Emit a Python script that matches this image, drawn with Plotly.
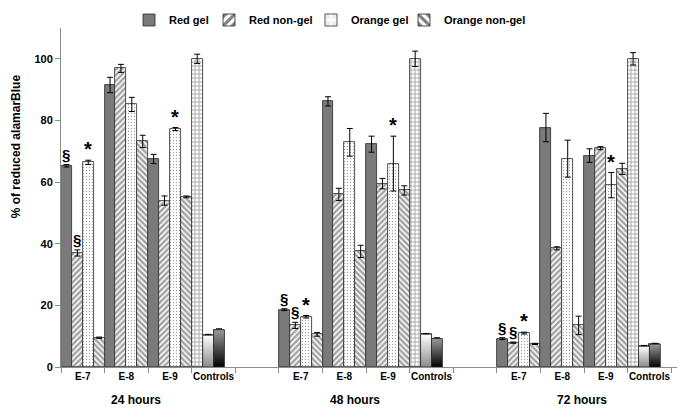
import plotly.graph_objects as go

# ---- data ----
categories = ["E-7", "E-8", "E-9", "Controls"]
times = ["24 hours", "48 hours", "72 hours"]
series_names = ["Red gel", "Red non-gel", "Orange gel", "Orange non-gel"]

# values per time point (E-7, E-8, E-9, Controls)
red_gel = [[65.3, 91.5, 67.5, 100.0], [18.6, 86.2, 72.3, 100.0], [9.2, 77.7, 68.6, 100.0]]
red_gel_err = [[0.4, 2.5, 1.5, 1.5], [0.3, 1.5, 2.6, 2.5], [0.3, 4.6, 2.2, 2.0]]
red_nongel = [[37.0, 96.9, 54.0, 10.3], [13.5, 56.0, 59.5, 10.6], [7.9, 38.5, 71.0, 6.7]]
red_nongel_err = [[1.0, 1.3, 1.5, 0.3], [1.0, 2.0, 1.7, 0.3], [0.2, 0.5, 0.5, 0.3]]
orange_gel = [[66.4, 85.2, 77.2, 12.1], [16.3, 72.9, 66.0, 9.2], [11.0, 67.6, 59.0, 7.4]]
orange_gel_err = [[0.7, 2.3, 0.5, 0.3], [0.4, 4.5, 8.9, 0.3], [0.3, 6.0, 4.1, 0.3]]
orange_nongel = [[9.5, 73.2, 55.2, None], [10.6, 37.5, 57.3, None], [7.5, 13.5, 64.3, None]]
orange_nongel_err = [[0.2, 2.0, 0.3, 0], [0.6, 2.0, 1.5, 0], [0.2, 3.0, 1.8, 0]]

# significance marks: (time index, category index, series index, symbol)
marks = [(0, 0, 0, "§"), (0, 0, 1, "§"), (0, 0, 2, "*"), (0, 2, 2, "*"),
         (1, 0, 0, "§"), (1, 0, 1, "§"), (1, 0, 2, "*"), (1, 2, 2, "*"),
         (2, 0, 0, "§"), (2, 0, 1, "§"), (2, 0, 2, "*"), (2, 2, 2, "*")]

ytick_vals = [0, 20, 40, 60, 80, 100]

# ---- layout helpers ----
ncat = len(categories)
step = ncat + 1  # one blank category between time groups
nser = len(series_names)
FONT = "Liberation Sans, Arial"
OFF = 8  # page body margin of the html page


def xpos(t, c):
    return t * step + c + 0.5


def slot(t, c, s):
    left = xpos(t, c) - 0.5 + s / nser
    return left, left + 1.0 / nser


xs = [xpos(t, c) for t in range(len(times)) for c in range(ncat)]
ctrl = [c == ncat - 1 for t in range(len(times)) for c in range(ncat)]


def flat(v):
    return [x for row in v for x in row]


fig = go.Figure()

styles = [
    # (normal color, pattern, fg, size, solidity, control color, control pattern)
    ("#7a7a7a", "", "black", 4, 0.3, "white", "+"),
    ("white", "/", "#000000", 4, 0.6, "#d8d8d8", ""),
    ("white", ".", "#dadada", 3, 0.15, "#4a4a4a", ""),
    ("white", "\\", "#000000", 4, 0.62, "white", ""),
]
all_vals = [red_gel, red_nongel, orange_gel, orange_nongel]
all_errs = [red_gel_err, red_nongel_err, orange_gel_err, orange_nongel_err]
legend_ids = ["legend", "legend2", "legend3", "legend4"]
legend_text_px = [170, 250, 352, 445]

for i, name in enumerate(series_names):
    col, pat, fg, psize, sol, ccol, cpat = styles[i]
    colors = [ccol if c else col for c in ctrl]
    shapes = [cpat if c else pat for c in ctrl]
    fgs = ["#111111" if c else fg for c in ctrl]
    sizes = [4 if c else psize for c in ctrl]
    sols = [0.4 if c else sol for c in ctrl]
    fig.add_trace(go.Bar(
        name=name, x=xs, y=flat(all_vals[i]), legend=legend_ids[i],
        marker=dict(color=colors,
                    line=dict(color="#2a2a2a", width=0.8),
                    pattern=dict(shape=shapes, fgcolor=fgs, bgcolor=colors,
                                 fillmode="overlay", size=sizes, solidity=sols)),
        error_y=dict(type="data", array=flat(all_errs[i]), color="black",
                     thickness=1, width=3),
    ))

# gradient fills for the control bars of series 2 and 3
grad = {1: [[0, "#8a8a8a"], [1, "#ffffff"]], 2: [[0, "#000000"], [1, "#9a9a9a"]]}
for s, cs in grad.items():
    for t in range(len(times)):
        c = ncat - 1
        v = all_vals[s][t][c]
        x0, x1 = slot(t, c, s)
        fig.add_trace(go.Scatter(
            x=[x0, x1, x1, x0, x0], y=[0, 0, v, v, 0], mode="lines", fill="toself",
            fillgradient=dict(type="vertical", colorscale=cs, start=0, stop=v),
            line=dict(color="#2a2a2a", width=0.8), showlegend=False, hoverinfo="skip"))

# significance symbols
for t, c, s, sym in marks:
    v = all_vals[s][t][c] + all_errs[s][t][c]
    x0, x1 = slot(t, c, s)
    fig.add_annotation(x=(x0 + x1) / 2, y=v, text="<b>%s</b>" % sym,
                       showarrow=False, yanchor="bottom",
                       font=dict(size=15 if sym == "§" else 20, color="black", family=FONT),
                       yshift=-2 if sym == "*" else 0)

# time group labels
group_x = [1.72, 6.75, 11.96]
for t, lab in enumerate(times):
    fig.add_annotation(x=group_x[t], y=0, yref="paper", text=lab, showarrow=False,
                       yanchor="middle", yshift=-33,
                       font=dict(size=12, family=FONT, weight="bold", color="black"))

# y axis title
fig.add_annotation(xref="x domain", x=(16 - 61) / 622, yref="paper", y=0.651,
                   text="% of reduced alamarBlue", textangle=-90, showarrow=False,
                   xanchor="center", yanchor="middle",
                   font=dict(size=12, family=FONT, weight="bold", color="black"))

total = len(times) * step - 1
layout_legends = {}
for i, lid in enumerate(legend_ids):
    layout_legends[lid] = dict(orientation="h", xref="container", yref="container",
                               x=(legend_text_px[i] - OFF - 41) / 685, xanchor="left",
                               y=1 - (20 - OFF) / 417, yanchor="middle",
                               font=dict(size=11, weight="bold", family=FONT),
                               itemwidth=30, bgcolor="rgba(0,0,0,0)")

fig.update_layout(
    width=685, height=417,
    margin=dict(l=61 - OFF, r=685 - (683 - OFF), t=28 - OFF, b=round(417 - (366.7 - OFF)),
                autoexpand=False),
    paper_bgcolor="white", plot_bgcolor="white",
    barmode="group", bargap=0, bargroupgap=0,
    font=dict(family=FONT, color="black", size=11, weight="bold"),
    showlegend=True,
    xaxis=dict(range=[0, total + 0.27], showline=True, linecolor="#8c8c8c",
               tickvals=xs, ticktext=categories * len(times), ticks="",
               tickfont=dict(size=10, weight="bold"), automargin=False,
               minor=dict(tickvals=list(range(0, total + 1)), ticks="outside",
                          ticklen=5, tickcolor="#8c8c8c", showgrid=False),
               showgrid=False, zeroline=False),
    yaxis=dict(range=[0, 110], showline=True, linecolor="#8c8c8c", ticks="outside",
               ticklen=5, tickcolor="#8c8c8c", tickvals=ytick_vals, automargin=False,
               tickfont=dict(size=11, weight="bold"), showgrid=False, zeroline=False),
    **layout_legends,
)

fig.write_html("out.html")
